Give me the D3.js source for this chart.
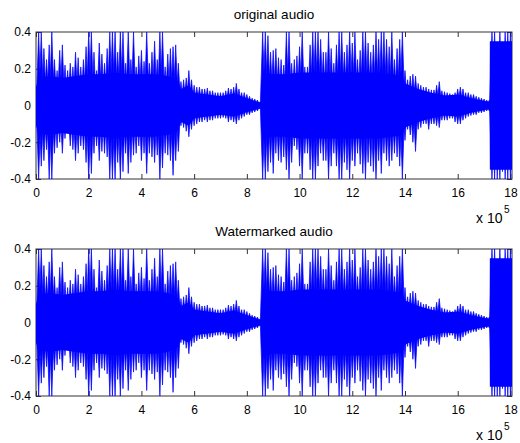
<!DOCTYPE html>
<html lang="en">
<head>
<meta charset="UTF-8">
<title>original audio / Watermarked audio</title>
<script src="https://d3js.org/d3.v7.min.js"></script>
<style>
  body { margin: 0; background: #fff; }
  svg text { font-family: "Liberation Sans", Arial, sans-serif; fill: #000; }
</style>
</head>
<body>
<svg width="520" height="443"></svg>
<script>
    // peak amplitude of each frame of 10^4 samples (frame i starts at sample i*frameSize)
    var frameSize = 1e4;
    var peakHi = [
        0.10,0.40,0.40,0.31,0.25,0.33,0.40,0.25,0.19,0.30,
        0.33,0.22,0.19,0.23,0.21,0.29,0.26,0.21,0.25,0.32,
        0.40,0.40,0.29,0.19,0.34,0.28,0.23,0.31,0.40,0.40,
        0.40,0.29,0.40,0.40,0.23,0.40,0.25,0.40,0.21,0.27,
        0.30,0.24,0.40,0.23,0.29,0.35,0.25,0.40,0.40,0.21,
        0.28,0.31,0.32,0.33,0.23,0.13,0.14,0.15,0.19,0.14,
        0.11,0.10,0.10,0.09,0.09,0.095,0.08,0.08,0.07,0.07,
        0.07,0.07,0.08,0.095,0.09,0.10,0.12,0.09,0.07,0.07,
        0.06,0.05,0.04,0.035,0.03,0.02,0.40,0.40,0.38,0.29,
        0.30,0.31,0.26,0.25,0.22,0.40,0.40,0.23,0.25,0.27,
        0.32,0.40,0.21,0.21,0.33,0.40,0.40,0.40,0.36,0.29,
        0.29,0.40,0.31,0.23,0.33,0.40,0.40,0.29,0.33,0.40,
        0.34,0.40,0.25,0.30,0.40,0.40,0.34,0.29,0.33,0.40,
        0.36,0.40,0.40,0.36,0.32,0.40,0.25,0.31,0.36,0.40,
        0.19,0.14,0.16,0.17,0.16,0.12,0.11,0.10,0.10,0.09,
        0.085,0.085,0.11,0.13,0.08,0.075,0.07,0.065,0.06,0.07,
        0.09,0.10,0.09,0.07,0.07,0.06,0.06,0.05,0.045,0.04,
        0.035,0.03,0.03,0.40,0.40,0.34,0.40,0.33,0.40,0.40,
        0.40
    ];
    var peakLo = [
        -0.11,-0.40,-0.33,-0.30,-0.24,-0.40,-0.40,-0.26,-0.23,-0.20,
        -0.26,-0.18,-0.15,-0.22,-0.24,-0.30,-0.26,-0.22,-0.24,-0.31,
        -0.40,-0.37,-0.26,-0.22,-0.30,-0.25,-0.26,-0.28,-0.40,-0.40,
        -0.40,-0.31,-0.40,-0.36,-0.26,-0.37,-0.31,-0.27,-0.26,-0.22,
        -0.30,-0.26,-0.37,-0.26,-0.28,-0.31,-0.27,-0.40,-0.34,-0.26,
        -0.27,-0.30,-0.38,-0.30,-0.25,-0.11,-0.12,-0.14,-0.17,-0.13,
        -0.11,-0.10,-0.09,-0.09,-0.08,-0.09,-0.08,-0.08,-0.07,-0.07,
        -0.07,-0.065,-0.07,-0.09,-0.08,-0.09,-0.10,-0.08,-0.07,-0.06,
        -0.05,-0.05,-0.04,-0.035,-0.03,-0.02,-0.40,-0.40,-0.36,-0.31,
        -0.37,-0.26,-0.30,-0.31,-0.28,-0.35,-0.40,-0.31,-0.22,-0.24,
        -0.33,-0.40,-0.26,-0.26,-0.35,-0.40,-0.40,-0.33,-0.26,-0.30,
        -0.30,-0.40,-0.33,-0.26,-0.33,-0.40,-0.40,-0.31,-0.35,-0.40,
        -0.30,-0.33,-0.26,-0.32,-0.37,-0.40,-0.31,-0.33,-0.36,-0.40,
        -0.30,-0.37,-0.26,-0.30,-0.33,-0.30,-0.26,-0.28,-0.33,-0.40,
        -0.19,-0.13,-0.16,-0.20,-0.25,-0.13,-0.12,-0.10,-0.10,-0.13,
        -0.10,-0.10,-0.11,-0.12,-0.08,-0.08,-0.08,-0.07,-0.07,-0.09,
        -0.10,-0.10,-0.08,-0.07,-0.06,-0.055,-0.05,-0.05,-0.04,-0.04,
        -0.035,-0.03,-0.03,-0.40,-0.40,-0.40,-0.40,-0.36,-0.40,-0.40,
        -0.40
    ];

    // dense body of the waveform (position in units of 10^5 samples)
    var bodyX  = [0, 0.1, 0.5, 1, 1.5, 2, 2.5, 3, 3.5, 4, 4.5, 5, 5.4, 5.5, 5.8, 6, 6.5, 7, 7.5, 8, 8.5, 8.57,
                  8.58, 9, 9.5, 10, 10.5, 11, 11.5, 12, 12.5, 13, 13.5, 13.9, 14, 14.5, 15, 15.5, 16, 16.5, 17, 17.21,
                  17.22, 18.06];
    var bodyHi = [0.10, 0.15, 0.16, 0.15, 0.16, 0.17, 0.17, 0.18, 0.17, 0.17, 0.17, 0.16, 0.13, 0.09, 0.11, 0.07, 0.06, 0.05, 0.065, 0.04, 0.015, 0.01,
                  0.18, 0.17, 0.17, 0.18, 0.18, 0.18, 0.18, 0.18, 0.18, 0.18, 0.17, 0.16, 0.12, 0.09, 0.07, 0.055, 0.06, 0.04, 0.025, 0.02,
                  0.35, 0.35];
    var bodyLo = [-0.11, -0.15, -0.16, -0.15, -0.16, -0.17, -0.17, -0.18, -0.17, -0.17, -0.17, -0.16, -0.13, -0.09, -0.11, -0.07, -0.06, -0.05, -0.06, -0.035, -0.015, -0.01,
                  -0.18, -0.17, -0.17, -0.18, -0.18, -0.18, -0.18, -0.18, -0.18, -0.18, -0.17, -0.16, -0.12, -0.09, -0.07, -0.055, -0.06, -0.04, -0.025, -0.02,
                  -0.35, -0.35];

    var xTicks = [0, 2, 4, 6, 8, 10, 12, 14, 16, 18];   // x 10^5
    var yTicks = [-0.4, -0.2, 0, 0.2, 0.4];
    var titles = ["original audio", "Watermarked audio"];

    var left = 36, right = 512, plotH = 147;
    var tops = [32, 249];

    var svg = d3.select("svg");

    var x = d3.scaleLinear()
        .domain([0, 18.06e5])
        .range([left, right]);

    var frames = peakHi.map(function(v, i) {
        return {pos: i * frameSize, hi: v, lo: peakLo[i]};
    });
    var body = bodyX.map(function(v, i) {
        return {pos: v * 1e5, hi: bodyHi[i], lo: bodyLo[i]};
    });

    tops.forEach(function(top, k) {
        var y = d3.scaleLinear().domain([-0.4, 0.4]).range([top + plotH, top]);
        var g = svg.append("g");

        g.append("clipPath").attr("id", "clip" + k)
            .append("rect")
            .attr("x", left).attr("y", top)
            .attr("width", right - left).attr("height", plotH);

        // axes, inward ticks like matlab
        g.append("g")
            .attr("transform", "translate(0," + (top + plotH) + ")")
            .call(d3.axisBottom(x).tickValues(xTicks.map(function(t) { return t * 1e5; }))
                .tickFormat(function(d) { return String(d / 1e5); })
                .tickSize(-5).tickPadding(9));
        g.append("g")
            .attr("transform", "translate(0," + top + ")")
            .call(d3.axisTop(x).tickValues(xTicks.map(function(t) { return t * 1e5; }))
                .tickFormat("").tickSize(-5));
        g.append("g")
            .attr("transform", "translate(" + left + ",0)")
            .call(d3.axisLeft(y).tickValues(yTicks)
                .tickFormat(function(d) { return String(d); })
                .tickSize(-5).tickPadding(5));
        g.append("g")
            .attr("transform", "translate(" + right + ",0)")
            .call(d3.axisRight(y).tickValues(yTicks).tickFormat("").tickSize(-5));

        g.selectAll(".domain").remove();
        g.selectAll(".tick line").attr("stroke", "#333");
        g.selectAll(".tick text").attr("font-size", "12px").attr("fill", "#000")
            .attr("font-family", "Liberation Sans, Arial, sans-serif");

        g.append("rect")
            .attr("x", left).attr("y", top)
            .attr("width", right - left).attr("height", plotH)
            .attr("fill", "none").attr("stroke", "#333").attr("stroke-width", 1);

        // waveform: dense body plus one narrow spike per frame reaching its min/max
        var wave = g.append("g").attr("clip-path", "url(#clip" + k + ")");

        wave.append("path")
            .datum(body)
            .attr("fill", "#0000ff")
            .attr("d", d3.area()
                .x(function(d) { return x(d.pos); })
                .y0(function(d) { return y(d.lo); })
                .y1(function(d) { return y(d.hi); }));

        var half = 2.4;
        wave.selectAll("path.spike")
            .data(frames)
            .enter().append("path")
            .attr("class", "spike")
            .attr("fill", "#0000ff")
            .attr("stroke", "#0000ff")
            .attr("stroke-width", 0.7)
            .attr("d", function(d) {
                var px = x(d.pos), y0 = y(0);
                return "M" + (px - half) + "," + y0 +
                       "L" + px + "," + y(d.hi) +
                       "L" + (px + half) + "," + y0 +
                       "L" + px + "," + y(d.lo) + "Z";
            });

        // title
        g.append("text")
            .attr("x", (left + right) / 2)
            .attr("y", top - 13)
            .attr("text-anchor", "middle")
            .attr("font-size", "13.5px")
            .text(titles[k]);

        // x 10^5 exponent label
        g.append("text")
            .attr("x", 476)
            .attr("y", top + plotH + 44)
            .attr("font-size", "14px")
            .text("x 10");
        g.append("text")
            .attr("x", 504)
            .attr("y", top + plotH + 34)
            .attr("font-size", "10px")
            .text("5");
    });
</script>
</body>
</html>
